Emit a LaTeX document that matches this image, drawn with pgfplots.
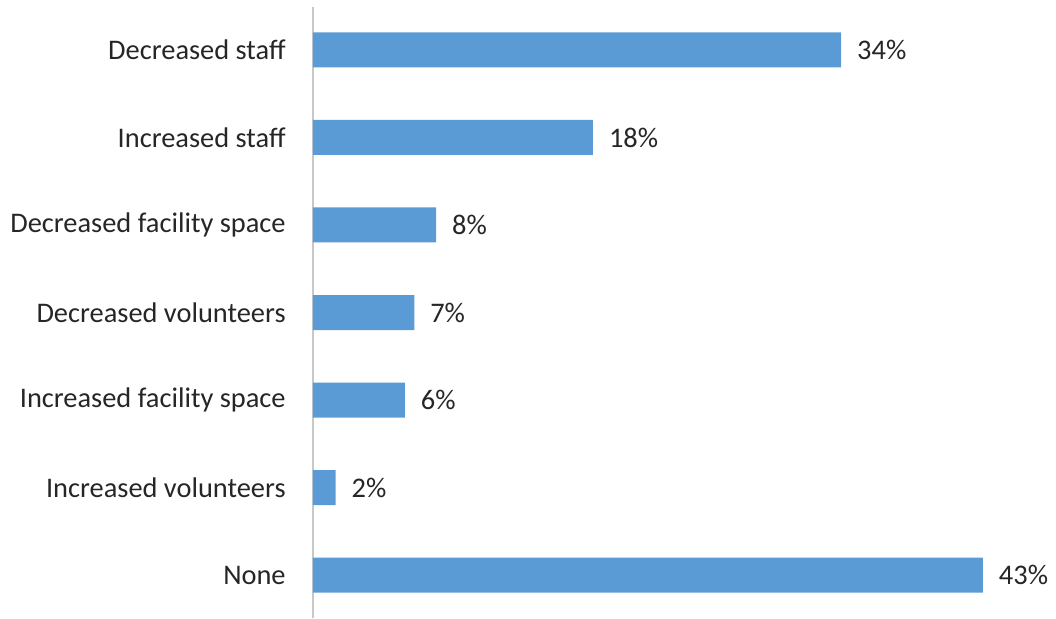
\documentclass[border=0pt]{standalone}
\usepackage{pgfplots}
\pgfplotsset{compat=1.18}
\usepackage{fontspec}
\setmainfont{Carlito}
\definecolor{barblue}{HTML}{5B9BD5}
\definecolor{axgray}{HTML}{C8C8C8}
\begin{document}
\begin{tikzpicture}
\begin{axis}[
  name=ax,
  scale only axis,
  width=557.25pt, height=458.25pt,
  xbar, bar width=26.25pt,
  xmin=0, xmax=47.69,
  ymin=-0.49, ymax=6.49,
  y dir=reverse,
  ytick={0,1,2,3,4,5,6},
  yticklabels={Decreased staff, Increased staff, Decreased facility space, Decreased volunteers, Increased facility space, Increased volunteers, None},
  axis x line=none,
  axis y line=left,
  y axis line style={-, color=axgray, line width=2pt},
  major tick length=0pt,
  /pgf/number format/assume math mode=true,
  yticklabel style={font=\fontsize{21.3}{24}\selectfont, text=black!85, xshift=-17pt},
  point meta=explicit,
  nodes near coords={\pgfmathprintnumber{\pgfplotspointmeta}\%},
  nodes near coords style={font=\fontsize{21.3}{24}\selectfont, text=black!85, anchor=west, xshift=8.5pt},
  clip=false,
]
\addplot[fill=barblue, draw=none] coordinates {
  (33.9,0) [34] (17.97,1) [18] (7.9,2) [8] (6.5,3) [7] (5.9,4) [6] (1.45,5) [2] (43,6) [43]
};
\end{axis}
\pgfresetboundingbox
\path ([xshift=-234.75pt, yshift=5.25pt]ax.north west) rectangle (ax.south east);
\end{tikzpicture}
\end{document}
